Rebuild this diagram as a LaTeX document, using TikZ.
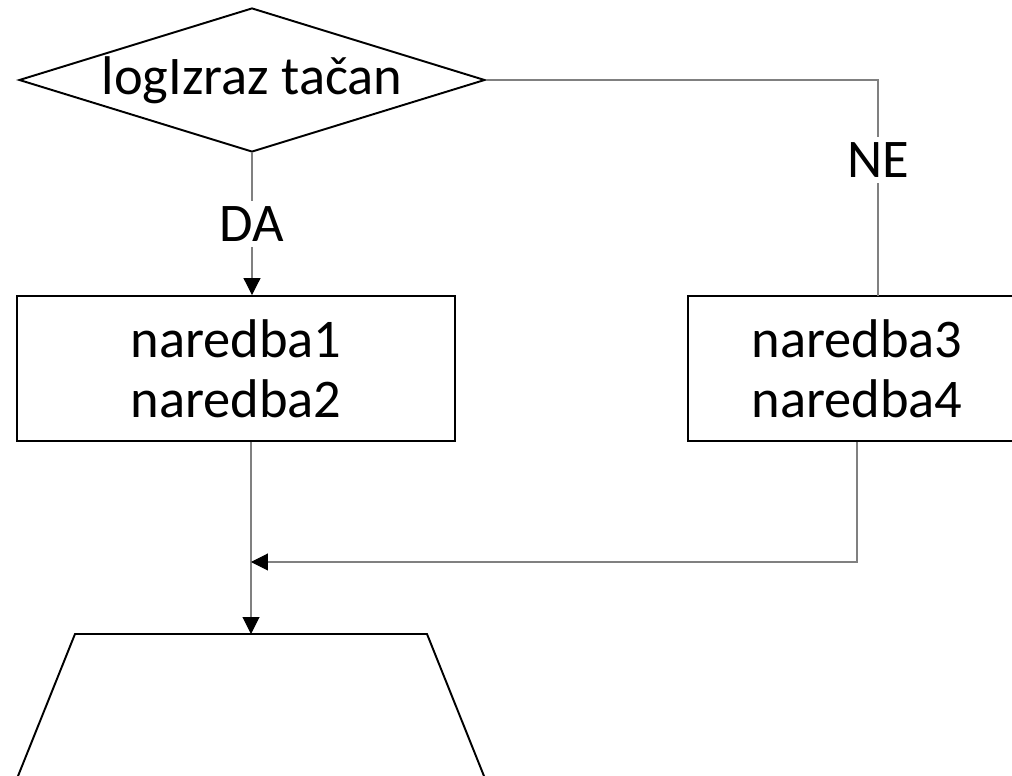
\documentclass[tikz,border=0pt]{standalone}
\usepackage{fontspec}
\setmainfont{Carlito}
\usetikzlibrary{shapes.geometric,arrows.meta}
\tikzset{
  oblik/.style={draw=black,line width=1.1pt},
  blok/.style={oblik,rectangle,align=center,inner sep=0pt},
  veza/.style={draw=black!50,line width=0.6pt},
  strelica/.style={veza,-{Triangle[length=0.34cm,width=0.34cm,color=black]}},
  natpis/.style={fill=white,inner sep=3pt}
}
\begin{document}
\begin{tikzpicture}[x=0.02cm,y=-0.02cm,font=\fontsize{31}{34}\selectfont]
			\useasboundingbox (0,0) rectangle (1012,776);
			\clip (0,0) rectangle (1012,776);
			% uslov i grane
			\node[oblik,diamond,aspect=3.24,inner sep=0pt,minimum width=9.32cm,minimum height=2.88cm] (uslov) at (252,80) {logIzraz tačan};
			\node[blok,minimum width=8.76cm,minimum height=2.9cm] (blok1) at (236,368.5) {naredba1\\naredba2};
			\node[blok,minimum width=6.76cm,minimum height=2.9cm] (blok2) at (857,368.5) {naredba3\\naredba4};
			\coordinate (ne) at (878,296);
			\draw[strelica] (uslov.south) -- node[natpis] {DA} (uslov.south |- blok1.north);
			\draw[veza] (uslov.east) -| (ne);
			\node[natpis] (ne-natpis) at (878,160) {NE};
			% spajanje
			\coordinate (izlaz) at (251,634);
			\coordinate (spoj) at (251,562);
			\draw[strelica] (blok1.south -| izlaz) -- (izlaz);
			\draw[strelica] (blok2.south) |- (spoj);
			\draw[oblik] (8.4,800) -- (75,634) -- (427,634) -- (493.6,800);
		\end{tikzpicture}
\end{document}
